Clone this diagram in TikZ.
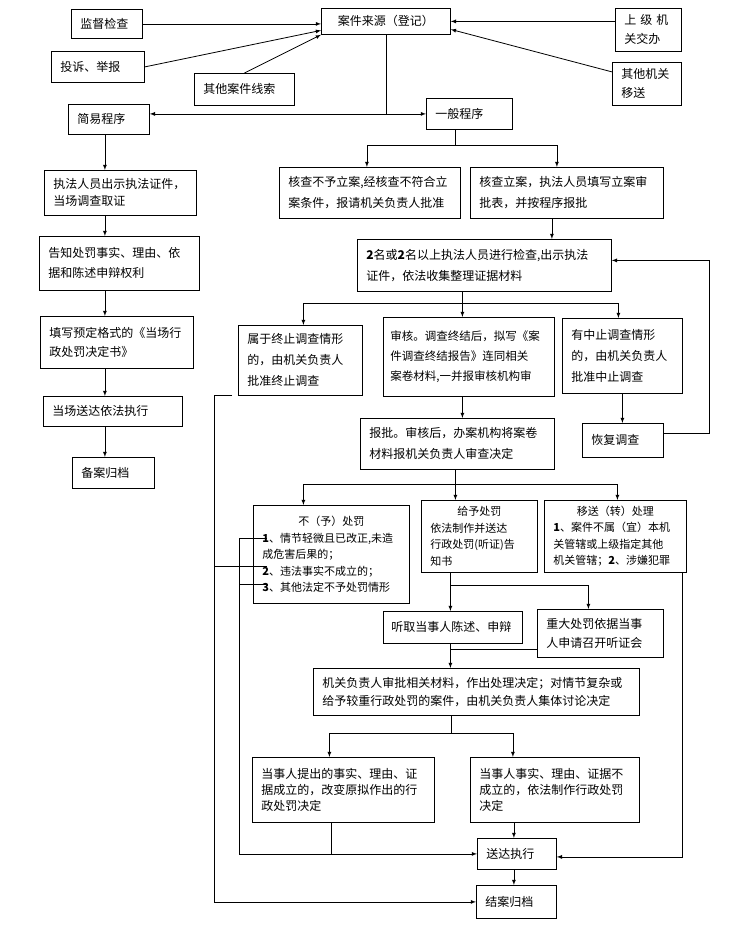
\documentclass[tikz,border=0pt]{standalone}
\usepackage{fontspec}
\setmainfont{Noto Sans CJK SC}
\usetikzlibrary{arrows}

\begin{document}
\begin{tikzpicture}[x=1pt,y=-1pt]
\tikzstyle{block} = [rectangle, draw, thick, anchor=north west, inner xsep=9pt,
inner ysep=2pt, align=left, font=\fontsize{12pt}{19pt}\selectfont]
\tikzstyle{small} = [font=\fontsize{11pt}{16.5pt}\selectfont]
\tikzstyle{line} = [draw, thick, -latex]
\useasboundingbox (0,0) rectangle (737,932);
% sources of cases
\node [block, text width=53pt, minimum height=29pt] (supervise) at (71,9) {监督检查};
\node [block, text width=75pt, minimum height=31pt] (complaint) at (51,51) {投诉、举报};
\node [block, text width=82pt, minimum height=32pt] (clue) at (194,73) {其他案件线索};
\node [block, text width=111pt, minimum height=26pt, align=center] (source) at (321,8) {案件来源（登记）};
\node [block, text width=48pt, minimum height=43pt] (superior) at (615,8) {上~级~机\\关交办};
\node [block, text width=51pt, minimum height=43pt] (transfer) at (612,62) {其他机关\\移送};
% simple procedure
\node [block, text width=63pt, minimum height=30pt] (simple) at (68,104) {简易程序};
\node [block, text width=134pt, minimum height=45pt, font=\fontsize{12pt}{17pt}\selectfont] (showid) at (44,170) {执法人员出示执法证件，\\当场调查取证};
\node [block, text width=142pt, minimum height=54pt, font=\fontsize{12pt}{20pt}\selectfont] (inform) at (39,236) {告知处罚事实、理由、依\\据和陈述申辩权利};
\node [block, text width=135pt, minimum height=52pt] (fillform) at (40,316) {填写预定格式的《当场行\\政处罚决定书》};
\node [block, text width=121pt, minimum height=30pt] (onsite) at (43,396) {当场送达依法执行};
\node [block, text width=64pt, minimum height=31pt] (record) at (72,457) {备案归档};
% general procedure
\node [block, text width=68pt, minimum height=31pt] (general) at (426,98) {一般程序};
\node [block, text width=163pt, minimum height=51pt, font=\fontsize{12pt}{21pt}\selectfont] (noreg) at (279,167) {核查不予立案,经核查不符合立\\案条件，报请机关负责人批准};
\node [block, text width=175pt, minimum height=51pt, font=\fontsize{12pt}{21pt}\selectfont] (register) at (470,167) {核查立案，执法人员填写立案审\\批表，并按程序报批};
\node [block, text width=236pt, minimum height=52pt, font=\fontsize{12pt}{21pt}\selectfont] (inspect) at (357,239) {\textbf{2}名或\textbf{2}名以上执法人员进行检查,出示执法\\证件，依法收集整理证据材料};
\node [block, text width=106pt, minimum height=70pt, font=\fontsize{12pt}{21pt}\selectfont] (terminate) at (238,325) {属于终止调查情形\\的，由机关负责人\\批准终止调查};
\node [block, inner xsep=7pt, text width=157pt, minimum height=79pt, font=\fontsize{11.5pt}{20pt}\selectfont] (review) at (383,317) {审核。调查终结后，拟写《案\\件调查终结报告》连同相关\\案卷材料,一并报审核机构审};
\node [block, text width=102pt, minimum height=75pt, font=\fontsize{12pt}{21pt}\selectfont] (suspend) at (562,318) {有中止调查情形\\的，由机关负责人\\批准中止调查};
\node [block, text width=176pt, minimum height=51pt, font=\fontsize{12pt}{21pt}\selectfont] (approve) at (360,418) {报批。审核后，办案机构将案卷\\材料报机关负责人审查决定};
\node [block, text width=63pt, minimum height=34pt] (resume) at (582,423) {恢复调查};
% decisions
\node [block, small, text width=138pt, minimum height=98pt] (nopenalty) at (253,505) {\makebox[\linewidth]{不（予）处罚}\\\textbf{1}、情节轻微且已改正,未造\\成危害后果的；\\\textbf{2}、违法事实不成立的；\\\textbf{3}、其他法定不予处罚情形};
\node [block, small, text width=98pt, minimum height=72pt] (penalty) at (421,500) {\makebox[\linewidth]{给予处罚}\\依法制作并送达\\行政处罚(听证)告\\知书};
\node [block, small, text width=124pt, minimum height=72pt] (handover) at (544,500) {\makebox[\linewidth]{移送（转）处理}\\\textbf{1}、案件不属（宜）本机\\关管辖或上级指定其他\\机关管辖；\textbf{2}、涉嫌犯罪};
\node [block, inner xsep=8pt, text width=123pt, minimum height=32pt] (hearing) at (383,611) {听取当事人陈述、申辩};
\node [block, text width=108pt, minimum height=48pt] (majorhear) at (537,609) {重大处罚依据当事\\人申请召开听证会};
\node [block, text width=308pt, minimum height=47pt, font=\fontsize{12pt}{18pt}\selectfont] (decide) at (313,668) {机关负责人审批相关材料，作出处理决定；对情节复杂或\\给予较重行政处罚的案件，由机关负责人集体讨论决定};
\node [block, text width=164pt, minimum height=65pt, font=\fontsize{12pt}{16pt}\selectfont] (change) at (252,757) {当事人提出的事实、理由、证\\据成立的，改变原拟作出的行\\政处罚决定};
\node [block, text width=151pt, minimum height=65pt, font=\fontsize{12pt}{16pt}\selectfont] (keep) at (470,757) {当事人事实、理由、证据不\\成立的，依法制作行政处罚\\决定};
\node [block, text width=61pt, minimum height=31pt] (deliver) at (477,838) {送达执行};
\node [block, text width=62pt, minimum height=33pt] (close) at (476,885) {结案归档};

% into case source
\path [line] (supervise.east) -- (supervise.east -| source.west);
\path [line] (complaint.east) -- ([yshift=-9pt]source.west);
\path [line] (clue.north) -- (source.south west);
\path [line] (superior.west |- source.east) -- (source.east);
\path [line] ([yshift=12pt]transfer.west) -- ([yshift=-8pt]source.east);
% two procedures
\draw [thick] (source.south) -- (source.south |- general.west);
\path [line] (source.south |- general.west) -- (general.west);
\path [line] (source.south |- general.west) -- (general.west -| simple.east);
% simple procedure
\coordinate (c1) at ([xshift=-4pt]simple.south);
\path [line] (c1) -- (c1 |- showid.north);
\path [line] (c1 |- showid.south) -- (c1 |- inform.north);
\path [line] (c1 |- inform.south) -- (c1 |- fillform.north);
\path [line] (c1 |- fillform.south) -- (c1 |- onsite.north);
\path [line] (c1 |- onsite.south) -- (c1 |- record.north);
% general procedure
\coordinate (s2) at ([xshift=-14pt,yshift=-16pt]general.south);
\draw [thick] (s2 |- general.south) -- (s2);
\path [line] (s2) -| ([xshift=-3pt]noreg.north);
\path [line] (s2) -| ([xshift=-10pt]register.north);
\path [line] ([xshift=-15pt]register.south) -- ([xshift=-15pt]register.south |- inspect.north);
\coordinate (s3) at ([xshift=-22pt,yshift=-12pt]inspect.south);
\draw [thick] (s3 |- inspect.south) -- (s3);
\path [line] (s3) -| ([xshift=3pt]terminate.north);
\path [line] (s3) -- (s3 |- review.north);
\path [line] (s3) -| ([xshift=-4pt]suspend.north);
\path [line] (s3 |- review.south) -- (s3 |- approve.north);
\path [line] (suspend.south) -- (suspend.south |- resume.north);
\path [line] ([yshift=7pt]resume.east) -- ++(46,0) |- ([yshift=5pt]inspect.east);
% decisions
\coordinate (s4) at ([xshift=-2pt,yshift=-15pt]approve.south);
\draw [thick] (s4 |- approve.south) -- (s4);
\path [line] (s4) -| ([xshift=-28pt]nopenalty.north);
\path [line] (s4) -- (s4 |- penalty.north);
\path [line] (s4) -| ([xshift=2pt]handover.north);
\coordinate (s5) at ([xshift=-29pt,yshift=-13pt]penalty.south);
\draw [thick] (s5 |- penalty.south) -- (s5);
\path [line] (s5) -- (s5 |- hearing.north);
\path [line] (s5) -| ([xshift=-12pt]majorhear.north);
\path [line] (s5 |- hearing.south) -- (s5 |- decide.north);
\draw [thick] ([yshift=-16pt]majorhear.west) -- ([yshift=-16pt]majorhear.west -| s5);
\coordinate (s6) at ([xshift=-25pt,yshift=-18pt]decide.south);
\draw [thick] (s6 |- decide.south) -- (s6);
\path [line] (s6) -| ([xshift=-14pt]change.north);
\path [line] (s6) -| ([xshift=-42pt]keep.north);
\path [line] ([xshift=-3pt]deliver.north |- keep.south) -- ([xshift=-3pt]deliver.north);
\path [line] ([xshift=-3pt]deliver.south) -- ([xshift=-3pt]deliver.south |- close.north);
% back to delivery and filing
\coordinate (np1) at ([xshift=14pt,yshift=-33pt]nopenalty.north west);
\coordinate (np2) at ([xshift=14pt,yshift=-61pt]nopenalty.north west);
\coordinate (np3) at ([xshift=14pt,yshift=-79pt]nopenalty.north west);
\draw [thick] (np3) -- ++(-28,0);
\path [line] (np1) -- ++(-28,0) |- (deliver.west);
\draw [thick] ([xshift=-12pt]change.south) -- ([xshift=-12pt]change.south |- deliver.west);
\path [line] ([xshift=-4pt]handover.south east) |- ([yshift=-3pt]deliver.east);
\path [line] ([xshift=-6pt]terminate.south west) -- ++(-18,0) |- (close.west);
\draw [thick] (np2) -- ([xshift=-24pt]terminate.south west |- np2);
\end{tikzpicture}
\end{document}
